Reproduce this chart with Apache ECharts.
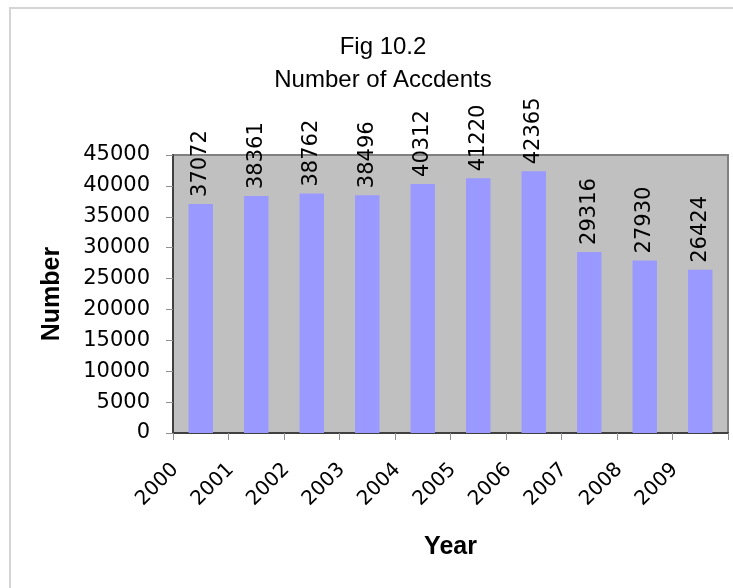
<!DOCTYPE html>
<html>
<head>
<meta charset="utf-8">
<script src="https://cdn.jsdelivr.net/npm/echarts@6/dist/echarts.min.js"></script>
<style>
  html, body { margin: 0; padding: 0; background: #fff; }
  #chart { width: 733px; height: 588px; }
</style>
</head>
<body>
<div id="chart"></div>
<script>
// data
var years = ["2000", "2001", "2002", "2003", "2004", "2005", "2006", "2007", "2008", "2009"];
var accidents = [37072, 38361, 38762, 38496, 40312, 41220, 42365, 29316, 27930, 26424];

var font = "'Liberation Sans', Arial, sans-serif";
var numFont = "'DejaVu Sans', sans-serif"; // wider digits, closer to the scan
var myChart = echarts.init(document.getElementById("chart"));

myChart.setOption({
  animation: false,
  backgroundColor: "#ffffff",
  textStyle: { fontFamily: font },
  graphic: [
    {
      type: "rect",
      shape: { x: 10, y: 8, width: 800, height: 700 },
      style: { fill: "none", stroke: "#d4d4d4", lineWidth: 2 },
      silent: true
    }
  ],
  title: {
    text: "Fig 10.2\nNumber of Accdents",
    left: 378,
    top: 26,
    textAlign: "center",
    textStyle: {
      fontFamily: font,
      fontSize: 24,
      fontWeight: "normal",
      color: "#000",
      lineHeight: 33
    }
  },
  grid: {
    left: 173,
    right: 5,
    top: 155,
    bottom: 155,
    show: true,
    backgroundColor: "#c0c0c0",
    borderColor: "#808080",
    borderWidth: 2
  },
  xAxis: {
    type: "category",
    data: years,
    name: "Year",
    nameLocation: "middle",
    nameGap: 102,
    nameTextStyle: { fontFamily: font, fontSize: 25, fontWeight: "bold", color: "#000" },
    axisLine: { lineStyle: { color: "#404040", width: 2 } },
    axisTick: { show: true, length: 7, lineStyle: { color: "#909090" } },
    axisLabel: {
      rotate: 45,
      margin: 8,
      padding: [0, 36, 0, 0],
      fontSize: 20,
      color: "#000",
      fontFamily: numFont
    }
  },
  yAxis: {
    type: "value",
    min: 0,
    max: 45000,
    interval: 5000,
    name: "Number",
    nameLocation: "middle",
    nameGap: 108,
    nameTextStyle: { fontFamily: font, fontSize: 25, fontWeight: "bold", color: "#000" },
    splitLine: { show: false },
    axisLine: { show: true, lineStyle: { color: "#404040", width: 2 } },
    axisTick: { show: true, length: 7, lineStyle: { color: "#909090" } },
    axisLabel: {
      margin: 23,
      fontSize: 21,
      color: "#000",
      fontFamily: numFont,
      formatter: function (v) { return String(v); }
    }
  },
  series: [
    {
      type: "bar",
      data: accidents,
      barWidth: "44%",
      itemStyle: { color: "#9999ff" },
      label: {
        show: true,
        position: "top",
        rotate: 90,
        align: "left",
        verticalAlign: "middle",
        distance: 7,
        fontSize: 21,
        color: "#000",
        fontFamily: numFont
      }
    }
  ]
});
</script>
</body>
</html>
